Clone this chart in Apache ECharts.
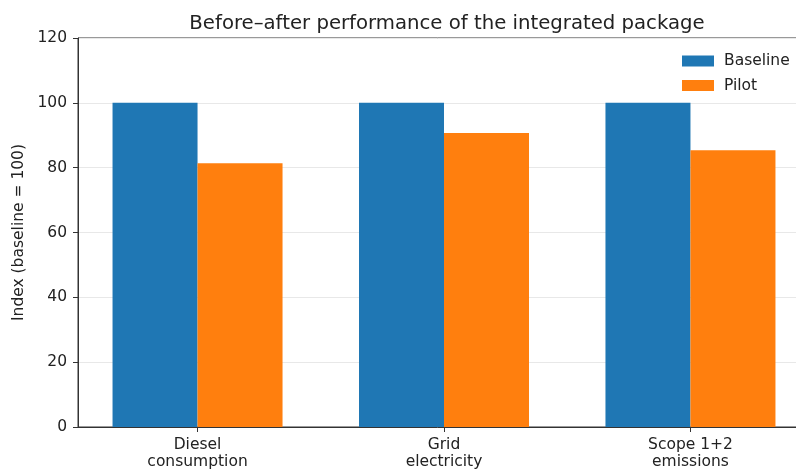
<!DOCTYPE html>
<html>
<head>
<meta charset="utf-8">
<script src="https://cdn.jsdelivr.net/npm/echarts@6/dist/echarts.min.js"></script>
<style>
html,body{margin:0;padding:0;background:#fff;}
#main{width:796px;height:472px;}
</style>
</head>
<body>
<div id="main"></div>
<script>
var categories = ['Diesel\nconsumption', 'Grid\nelectricity', 'Scope 1+2\nemissions'];
var baseline = [100, 100, 100];
var pilot = [81.4, 90.7, 85.4];

var font = 'DejaVu Sans';
var positions = categories.map(function (c, i) { return i; });

function pairs(vals) {
    return vals.map(function (v, i) { return [i, v]; });
}

var chart = echarts.init(document.getElementById('main'));
chart.setOption({
    animation: false,
    title: {
        text: 'Before\u2013after performance of the integrated package',
        left: 442,
        textAlign: 'center',
        top: 9,
        textStyle: { fontFamily: font, fontSize: 19.7, fontWeight: 'normal', color: '#222' }
    },
    legend: {
        orient: 'vertical',
        left: 677,
        top: 48,
        itemWidth: 32,
        itemHeight: 11,
        itemGap: 8.5,
        icon: 'rect',
        textStyle: { fontFamily: font, fontSize: 15.5, color: '#222', padding: [0, 0, 0, 5] },
        data: ['Baseline', 'Pilot']
    },
    grid: {
        left: 78, top: 38, width: 732, bottom: 45,
        outerBoundsMode: 'none',
        containLabel: false,
        show: true, borderColor: '#333', borderWidth: 1, backgroundColor: 'transparent'
    },
    xAxis: {
        type: 'value',
        min: -0.485,
        max: 2.485,
        splitLine: { show: false },
        axisLine: { onZero: false, lineStyle: { color: '#333' } },
        axisTick: { show: true, length: 5, customValues: positions, lineStyle: { color: '#333' } },
        axisLabel: {
            customValues: positions,
            fontFamily: font, fontSize: 15.5, color: '#222', lineHeight: 17, margin: 9,
            formatter: function (v) { return categories[Math.round(v)]; }
        }
    },
    yAxis: {
        type: 'value',
        min: 0,
        max: 120,
        interval: 20,
        name: 'Index (baseline = 100)',
        nameLocation: 'middle',
        nameGap: 48,
        nameTextStyle: { fontFamily: font, fontSize: 15.5, color: '#222' },
        axisLine: { show: true, onZero: false, lineStyle: { color: '#333' } },
        axisTick: { show: true, length: 5, lineStyle: { color: '#333' } },
        axisLabel: { fontFamily: font, fontSize: 15.5, color: '#222', margin: 11 },
        splitLine: { show: true, lineStyle: { color: '#e8e8e8', width: 1 } }
    },
    series: [
        {
            name: 'Baseline', type: 'bar', data: pairs(baseline),
            barWidth: 85, barGap: '0%',
            itemStyle: { color: '#1f77b4' }
        },
        {
            name: 'Pilot', type: 'bar', data: pairs(pilot),
            barWidth: 85, barGap: '0%',
            itemStyle: { color: '#ff7f0e' }
        }
    ]
});
</script>
</body>
</html>
